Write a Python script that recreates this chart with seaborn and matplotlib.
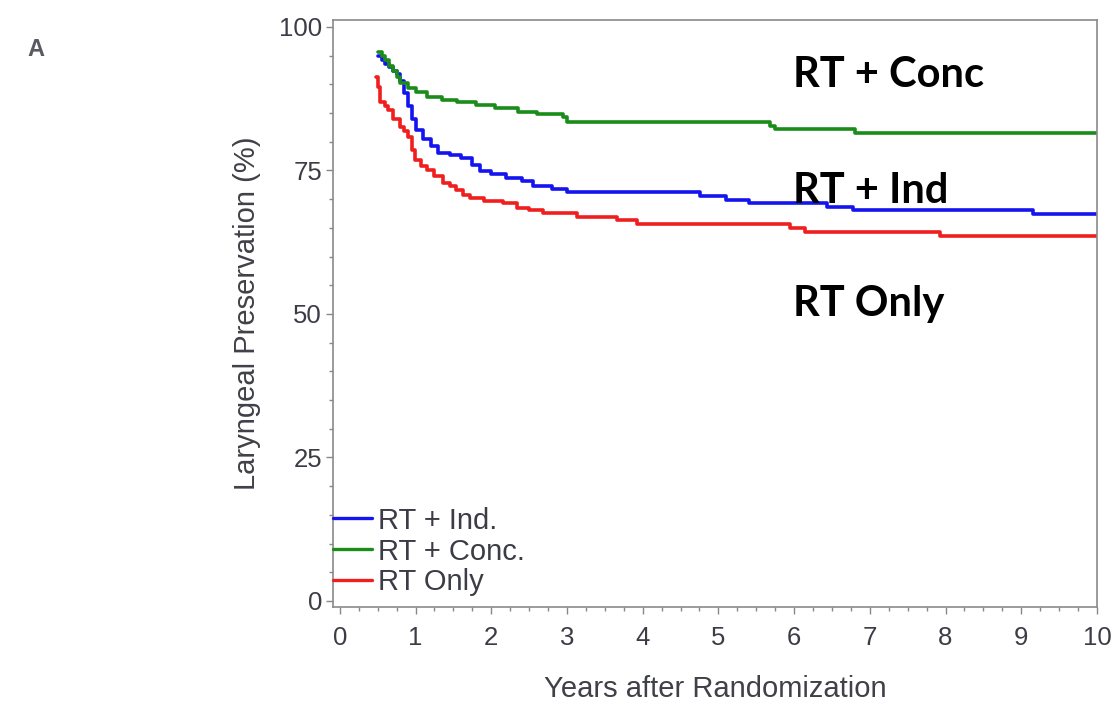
import matplotlib
matplotlib.use("Agg")
import matplotlib.pyplot as plt
import seaborn as sns
import pandas as pd
from matplotlib.ticker import MultipleLocator
from matplotlib.lines import Line2D

# ---- data ----
arms = ["RT + Ind.", "RT + Conc.", "RT Only"]

ind_t = [0.5, 0.55, 0.6, 0.65, 0.7, 0.75, 0.8, 0.85, 0.9, 0.95, 1.0, 1.1, 1.2, 1.3, 1.45, 1.6, 1.75,
         1.85, 2.0, 2.2, 2.4, 2.55, 2.8, 3.0, 4.76, 5.1, 5.4, 6.43, 6.78, 9.15, 10.0]
ind_s = [95.0, 94.2, 93.6, 93.0, 92.4, 91.8, 90.5, 88.5, 86.3, 84.0, 82.0, 80.5, 79.3, 78.0, 77.6, 77.2, 76.0,
         74.9, 74.3, 73.7, 73.2, 72.3, 71.8, 71.3, 70.5, 69.9, 69.3, 68.7, 68.1, 67.4, 67.4]

conc_t = [0.5, 0.55, 0.6, 0.65, 0.7, 0.75, 0.8, 0.9, 1.0, 1.15, 1.35, 1.55, 1.8, 2.05, 2.35, 2.6, 2.95,
          3.0, 5.68, 5.75, 6.8, 10.0]
conc_s = [95.6, 95.0, 94.2, 93.2, 92.3, 91.3, 90.2, 89.3, 88.6, 87.8, 87.3, 86.9, 86.4, 85.8, 85.2, 84.8, 84.3,
          83.5, 82.8, 82.2, 81.5, 81.5]

only_t = [0.48, 0.5, 0.53, 0.6, 0.64, 0.7, 0.79, 0.85, 0.9, 0.95, 0.99, 1.07, 1.15, 1.25, 1.36, 1.45, 1.54,
          1.62, 1.72, 1.9, 2.15, 2.34, 2.5, 2.68, 3.13, 3.66, 3.92, 5.94, 6.14, 7.93, 10.0]
only_s = [91.3, 89.5, 87.0, 86.2, 85.5, 84.0, 82.6, 81.8, 80.8, 78.5, 76.8, 75.8, 75.1, 74.0, 72.8, 72.2, 71.6,
          70.8, 70.2, 69.7, 69.3, 68.5, 68.1, 67.6, 66.9, 66.4, 65.7, 65.0, 64.3, 63.6, 63.6]

annot_labels = ["RT + Conc", "RT + Ind", "RT Only"]
annot_y = [91.6, 71.5, 51.8]

x_ticks = list(range(0, 11))
y_ticks = [0, 25, 50, 75, 100]

colors = {"RT + Ind.": "#1414f0", "RT + Conc.": "#1a8c1a", "RT Only": "#f01e1e"}

df = pd.concat([
    pd.DataFrame({"t": ind_t, "s": ind_s, "arm": arms[0]}),
    pd.DataFrame({"t": conc_t, "s": conc_s, "arm": arms[1]}),
    pd.DataFrame({"t": only_t, "s": only_s, "arm": arms[2]}),
], ignore_index=True)

sns.set_style("white")
plt.rcParams["font.family"] = ["Liberation Sans", "DejaVu Sans"]

fig = plt.figure(figsize=(11.12, 7.02), dpi=100)
ax = fig.add_axes([0.2995, 0.1353, 0.687, 0.8362])

sns.lineplot(data=df, x="t", y="s", hue="arm", palette=colors, estimator=None,
             drawstyle="steps-post", linewidth=2.6, ax=ax, legend=False, sort=False)

ax.set_xlim(-0.09, 10.0)
ax.set_ylim(-1.05, 101.2)
ax.set_xticks(x_ticks)
ax.set_yticks(y_ticks)
ax.xaxis.set_minor_locator(MultipleLocator(0.25))
ax.yaxis.set_minor_locator(MultipleLocator(5))

tick_col = "#3c3c46"
ax.tick_params(axis="both", which="major", direction="out", length=5, width=1,
               color="#888888", labelsize=18.5, labelcolor=tick_col, left=True, bottom=True)
ax.tick_params(axis="x", which="major", pad=9)
ax.tick_params(axis="y", which="major", pad=3)
ax.tick_params(axis="both", which="minor", direction="out", length=3, width=1,
               color="#888888", left=True, bottom=True)
for sp in ax.spines.values():
    sp.set_color("#8a8a8a")
    sp.set_linewidth(1.2)

ax.set_xlabel("Years after Randomization", fontsize=21, color="#404048", labelpad=18)
ax.set_ylabel("Laryngeal Preservation (%)", fontsize=21, color="#404048", labelpad=13)

handles = [Line2D([0], [0], color=colors[a], lw=2.4) for a in arms]
leg = ax.legend(handles, arms, loc="lower left", bbox_to_anchor=(0.0, 0.018),
                frameon=False, fontsize=21, handlelength=1.33, handletextpad=0.22,
                labelspacing=0.1, borderpad=0, borderaxespad=0)
for t in leg.get_texts():
    t.set_color(tick_col)

for lab, yy in zip(annot_labels, annot_y):
    ax.text(5.98, yy, lab, fontsize=30, fontweight="bold", color="black",
            family=["Lato", "DejaVu Sans"], va="center", ha="left")

fig.text(0.025, 0.930, "A", fontsize=17, fontweight="bold", color="#5a5a62", ha="left", va="center")

fig.savefig("out.png", dpi=100)
